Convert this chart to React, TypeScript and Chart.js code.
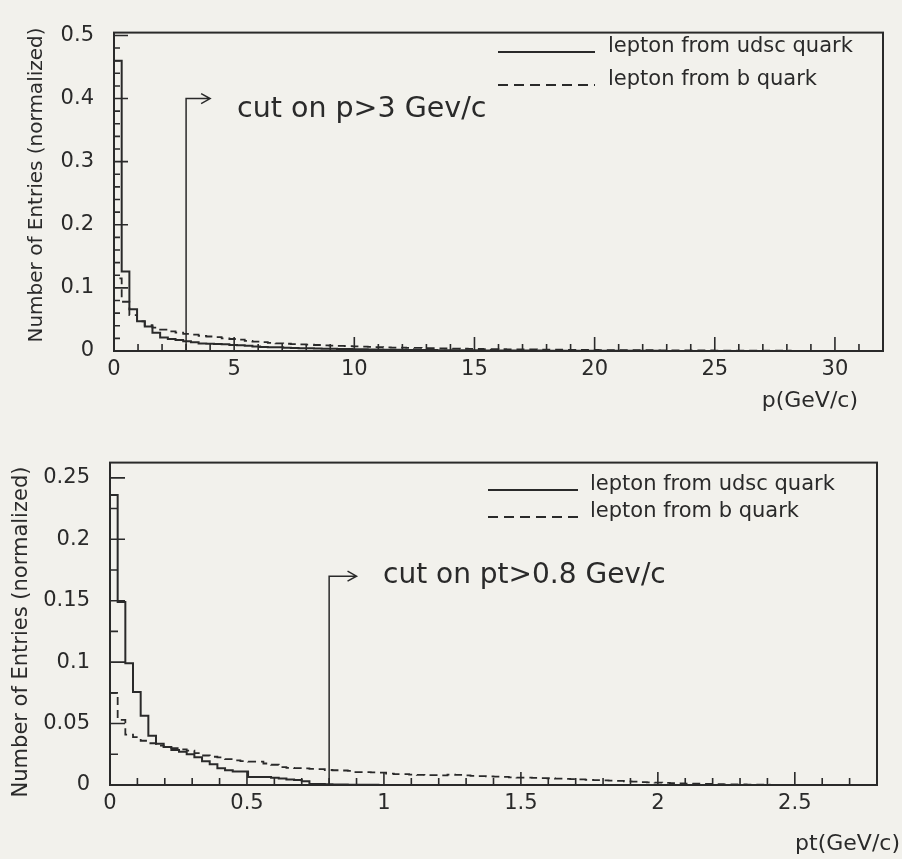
import React, { useEffect, useRef } from "react";
import { Chart, registerables } from "chart.js";

Chart.register(...registerables);

const INK = "#2a2a2a";
const PAPER = "#f2f1ec";
const FONT = "'DejaVu Sans', sans-serif";

// Lepton momentum p (GeV/c): 100 bins of 0.32 GeV between 0 and 32
const pBinWidth = 0.32;
const pUdsc = [
  0.46, 0.126, 0.066, 0.047, 0.039, 0.029, 0.0215, 0.019, 0.0175, 0.0155,
  0.014, 0.012, 0.0115, 0.011, 0.0105, 0.0095, 0.009, 0.0085, 0.007, 0.0065,
  0.006, 0.006, 0.005, 0.0048, 0.0045, 0.0042, 0.004, 0.0037, 0.0035, 0.0033,
  0.003, 0.0028, 0.0026, 0.0025, 0.0023, 0.0021, 0.002, 0.0019, 0.0017, 0.0016,
  0.0015, 0.0014, 0.0013, 0.0012, 0.0012, 0.0011, 0.001, 0.001, 0.0009, 0.0009,
  0.0008, 0.0008, 0.0007, 0.0007, 0.0006, 0.0006, 0.0005, 0.0005, 0.0005, 0.0004,
  0.0004, 0.0004, 0.0003, 0.0003, 0.0003, 0.0003, 0.0002, 0.0002, 0.0002, 0.0002,
  0.0002, 0.0001, 0.0001, 0.0001, 0.0001, 0.0001, 0.0001, 0.0001, 0.0001, 0.0,
  0.0001, 0.0, 0.0, 0.0001, 0.0, 0.0, 0.0, 0.0, 0.0, 0.0,
  0.0, 0.0, 0.0, 0.0, 0.0, 0.0, 0.0, 0.0, 0.0, 0.0,
];
const pB = [
  0.115, 0.078, 0.057, 0.047, 0.041, 0.037, 0.034, 0.031, 0.029, 0.027,
  0.026, 0.024, 0.023, 0.022, 0.02, 0.019, 0.018, 0.016, 0.015, 0.014,
  0.013, 0.012, 0.0115, 0.011, 0.0105, 0.01, 0.0095, 0.009, 0.0085, 0.008,
  0.0078, 0.0072, 0.007, 0.0065, 0.006, 0.0058, 0.0055, 0.0052, 0.005, 0.0048,
  0.0046, 0.0044, 0.0042, 0.004, 0.0038, 0.0036, 0.0034, 0.0032, 0.003, 0.0029,
  0.0028, 0.0027, 0.0026, 0.0025, 0.0024, 0.0023, 0.0022, 0.0021, 0.002, 0.0019,
  0.0018, 0.0017, 0.0016, 0.0015, 0.0015, 0.0014, 0.0014, 0.0013, 0.0012, 0.0012,
  0.0011, 0.0011, 0.001, 0.001, 0.001, 0.0009, 0.0008, 0.0008, 0.0007, 0.0007,
  0.0006, 0.0006, 0.0005, 0.0005, 0.0005, 0.0004, 0.0004, 0.0004, 0.0003, 0.0003,
  0.0003, 0.0003, 0.0002, 0.0002, 0.0002, 0.0002, 0.0002, 0.0001, 0.0001, 0.0001,
];

// Lepton transverse momentum pt (GeV/c): 100 bins of 0.028 GeV between 0 and 2.8
const ptBinWidth = 0.028;
const ptUdsc = [
  0.236, 0.149, 0.099, 0.0756, 0.0564, 0.04, 0.0336, 0.031, 0.0285, 0.027,
  0.025, 0.0225, 0.0194, 0.0168, 0.0137, 0.012, 0.011, 0.011, 0.0065, 0.0065,
  0.0065, 0.006, 0.0052, 0.0044, 0.004, 0.003, 0.0008, 0.0008, 0.0006, 0.0005,
  0.0004, 0.0003, 0.0003, 0.0002, 0.0002, 0.0001, 0.0001, 0.0001, 0.0, 0.0001,
  0.0, 0.0, 0.0, 0.0, 0.0, 0.0, 0.0, 0.0, 0.0, 0.0,
  0.0, 0.0, 0.0, 0.0, 0.0, 0.0, 0.0, 0.0, 0.0, 0.0,
  0.0, 0.0, 0.0, 0.0, 0.0, 0.0, 0.0, 0.0, 0.0, 0.0,
  0.0, 0.0, 0.0, 0.0, 0.0, 0.0, 0.0, 0.0, 0.0, 0.0,
  0.0, 0.0, 0.0, 0.0, 0.0, 0.0, 0.0, 0.0, 0.0, 0.0,
  0.0, 0.0, 0.0, 0.0, 0.0, 0.0, 0.0, 0.0, 0.0, 0.0,
];
const ptB = [
  0.075, 0.053, 0.041, 0.039, 0.036, 0.034, 0.032, 0.031, 0.03, 0.029,
  0.028, 0.026, 0.024, 0.023, 0.0225, 0.021, 0.02, 0.0195, 0.019, 0.019,
  0.0175, 0.0165, 0.0145, 0.014, 0.0138, 0.0135, 0.0132, 0.013, 0.0122, 0.012,
  0.0118, 0.0115, 0.0105, 0.0104, 0.0102, 0.01, 0.0092, 0.0088, 0.0088, 0.0085,
  0.0082, 0.008, 0.008, 0.0078, 0.0085, 0.0082, 0.0078, 0.0075, 0.0072, 0.007,
  0.0068, 0.0066, 0.0062, 0.006, 0.006, 0.0058, 0.0056, 0.0055, 0.0052, 0.005,
  0.0048, 0.0045, 0.0042, 0.004, 0.0038, 0.0036, 0.0034, 0.003, 0.0028, 0.0024,
  0.0022, 0.002, 0.0018, 0.0016, 0.0014, 0.0012, 0.001, 0.0009, 0.0008, 0.0006,
  0.0005, 0.0004, 0.0004, 0.0003, 0.0003, 0.0002, 0.0, 0.0001, 0.0, 0.0,
  0.0, 0.0, 0.0, 0.0, 0.0, 0.0, 0.0, 0.0, 0.0, 0.0,
];

const pTicksX = [0, 5, 10, 15, 20, 25, 30];
const pTickLabelsX = ["0", "5", "10", "15", "20", "25", "30"];
const pTicksY = [0, 0.1, 0.2, 0.3, 0.4, 0.5];
const pTickLabelsY = ["0", "0.1", "0.2", "0.3", "0.4", "0.5"];
const ptTicksX = [0, 0.5, 1, 1.5, 2, 2.5];
const ptTickLabelsX = ["0", "0.5", "1", "1.5", "2", "2.5"];
const ptTicksY = [0, 0.05, 0.1, 0.15, 0.2, 0.25];
const ptTickLabelsY = ["0", "0.05", "0.1", "0.15", "0.2", "0.25"];

const seriesNames = ["lepton from udsc quark", "lepton from b quark"];
const yAxisTitle = "Number of Entries (normalized)";

// cut marker: vertical line at the cut value, arrow pointing to the accepted side
const pCut = { at: 3, arrowTo: 4, level: 0.4, label: "cut on p>3 Gev/c" };
const ptCut = { at: 0.8, arrowTo: 0.9, level: 0.17, label: "cut on pt>0.8 Gev/c" };

type Panel = {
  top: number;
  width: number;
  height: number;
  area: { left: number; top: number; right: number; bottom: number };
  xMax: number;
  yMax: number;
  binWidth: number;
  udsc: number[];
  b: number[];
  xTicks: number[];
  xLabels: string[];
  xMinor: number;
  yTicks: number[];
  yLabels: string[];
  yMinor: number;
  ticks: { xMajor: number; xMinor: number; yMajor: number; yMinor: number };
  cut: { at: number; arrowTo: number; level: number; label: string };
  cutText: { x: number; y: number; size: number };
  legend: { x1: number; x2: number; textX: number; y1: number; y2: number; size: number };
  xTitle: string;
  xTitleAt: { x: number; y: number; size: number };
  yTitleAt: { x: number; y: number; size: number };
  tickFont: number;
  yLabelPad: number;
  xLabelPad: number;
};

const X_AXIS_H = 60;

const panels: Panel[] = [
  {
    top: 0,
    width: 902,
    height: 430,
    area: { left: 114, top: 15, right: 883, bottom: 351 },
    xMax: 32,
    yMax: 0.5045,
    binWidth: pBinWidth,
    udsc: pUdsc,
    b: pB,
    xTicks: pTicksX,
    xLabels: pTickLabelsX,
    xMinor: 1,
    yTicks: pTicksY,
    yLabels: pTickLabelsY,
    yMinor: 0.02,
    ticks: { xMajor: 14, xMinor: 7, yMajor: 14, yMinor: 6 },
    cut: pCut,
    cutText: { x: 237, y: 117, size: 28.5 },
    legend: { x1: 498, x2: 595, textX: 608, y1: 52, y2: 85, size: 21 },
    xTitle: "p(GeV/c)",
    xTitleAt: { x: 858, y: 407, size: 22 },
    yTitleAt: { x: 37, y: 185, size: 20 },
    tickFont: 21,
    yLabelPad: 20,
    xLabelPad: 6,
  },
  {
    top: 430,
    width: 902,
    height: 429,
    area: { left: 110, top: 17, right: 877, bottom: 355 },
    xMax: 2.8,
    yMax: 0.2624,
    binWidth: ptBinWidth,
    udsc: ptUdsc,
    b: ptB,
    xTicks: ptTicksX,
    xLabels: ptTickLabelsX,
    xMinor: 0.1,
    yTicks: ptTicksY,
    yLabels: ptTickLabelsY,
    yMinor: 0.025,
    ticks: { xMajor: 13, xMinor: 7, yMajor: 15, yMinor: 8 },
    cut: ptCut,
    cutText: { x: 383, y: 153, size: 28 },
    legend: { x1: 488, x2: 578, textX: 590, y1: 60, y2: 87, size: 21 },
    xTitle: "pt(GeV/c)",
    xTitleAt: { x: 900, y: 420, size: 22 },
    yTitleAt: { x: 22, y: 202, size: 21 },
    tickFont: 21,
    yLabelPad: 20,
    xLabelPad: 6,
  },
];

function histPoints(values: number[], width: number) {
  const pts = [{ x: 0, y: 0 }];
  values.forEach((v, i) => pts.push({ x: i * width, y: v }));
  pts.push({ x: values.length * width, y: values[values.length - 1] });
  return pts;
}

function isMajor(v: number, majors: number[], tol: number) {
  return majors.some((m) => Math.abs(m - v) < tol);
}

function decorPlugin(p: Panel) {
  return {
    id: "decor",
    afterDatasetsDraw(chart: any) {
      const { ctx, chartArea: a } = chart;
      const xs = chart.scales.x;
      const ys = chart.scales.y;
      ctx.save();
      ctx.strokeStyle = INK;
      ctx.fillStyle = INK;
      ctx.setLineDash([]);

      // frame
      ctx.lineWidth = 2;
      ctx.strokeRect(a.left, a.top, a.right - a.left, a.bottom - a.top);

      // inward tick marks on the bottom and left axes
      ctx.lineWidth = 1.6;
      ctx.beginPath();
      const nx = Math.floor(p.xMax / p.xMinor + 1e-6);
      for (let i = 1; i <= nx; i++) {
        const v = i * p.xMinor;
        const px = xs.getPixelForValue(v);
        if (px > a.right - 1) continue;
        const len = isMajor(v, p.xTicks, p.xMinor / 10) ? p.ticks.xMajor : p.ticks.xMinor;
        ctx.moveTo(px, a.bottom);
        ctx.lineTo(px, a.bottom - len);
      }
      const ny = Math.floor(p.yMax / p.yMinor + 1e-6);
      for (let i = 1; i <= ny; i++) {
        const v = i * p.yMinor;
        const py = ys.getPixelForValue(v);
        if (py < a.top + 1) continue;
        const len = isMajor(v, p.yTicks, p.yMinor / 10) ? p.ticks.yMajor : p.ticks.yMinor;
        ctx.moveTo(a.left, py);
        ctx.lineTo(a.left + len, py);
      }
      ctx.stroke();

      // cut line with arrow
      const cx = xs.getPixelForValue(p.cut.at);
      const cy = ys.getPixelForValue(p.cut.level);
      const ax = xs.getPixelForValue(p.cut.arrowTo);
      ctx.lineWidth = 1.5;
      ctx.beginPath();
      ctx.moveTo(cx, a.bottom);
      ctx.lineTo(cx, cy);
      ctx.lineTo(ax, cy);
      ctx.moveTo(ax - 9, cy - 5);
      ctx.lineTo(ax, cy);
      ctx.lineTo(ax - 9, cy + 5);
      ctx.stroke();

      ctx.textBaseline = "alphabetic";
      ctx.textAlign = "left";
      ctx.font = `${p.cutText.size}px ${FONT}`;
      ctx.fillText(p.cut.label, p.cutText.x, p.cutText.y);

      // legend
      ctx.lineWidth = 2;
      ctx.beginPath();
      ctx.moveTo(p.legend.x1, p.legend.y1);
      ctx.lineTo(p.legend.x2, p.legend.y1);
      ctx.stroke();
      ctx.setLineDash([10, 6]);
      ctx.beginPath();
      ctx.moveTo(p.legend.x1, p.legend.y2);
      ctx.lineTo(p.legend.x2, p.legend.y2);
      ctx.stroke();
      ctx.setLineDash([]);
      ctx.font = `${p.legend.size}px ${FONT}`;
      ctx.fillText(seriesNames[0], p.legend.textX, p.legend.y1);
      ctx.fillText(seriesNames[1], p.legend.textX, p.legend.y2);

      // axis titles
      ctx.font = `${p.xTitleAt.size}px ${FONT}`;
      ctx.textAlign = "right";
      ctx.fillText(p.xTitle, p.xTitleAt.x, p.xTitleAt.y);

      ctx.translate(p.yTitleAt.x, p.yTitleAt.y);
      ctx.rotate(-Math.PI / 2);
      ctx.textAlign = "center";
      ctx.textBaseline = "middle";
      ctx.font = `${p.yTitleAt.size}px ${FONT}`;
      ctx.fillText(yAxisTitle, 0, 0);
      ctx.restore();
    },
  };
}

function HistPanel({ p }: { p: Panel }) {
  const ref = useRef<HTMLCanvasElement | null>(null);
  useEffect(() => {
    if (!ref.current) return;
    const tickFont = { family: FONT, size: p.tickFont };
    const chart = new Chart(ref.current, {
      type: "line",
      data: {
        datasets: [
          {
            label: seriesNames[0],
            data: histPoints(p.udsc, p.binWidth),
            stepped: true,
            borderColor: INK,
            borderWidth: 2,
            pointRadius: 0,
            fill: false,
          },
          {
            label: seriesNames[1],
            data: histPoints(p.b, p.binWidth),
            stepped: true,
            borderColor: INK,
            borderWidth: 1.8,
            borderDash: [8, 5],
            pointRadius: 0,
            fill: false,
          },
        ],
      },
      options: {
        animation: false,
        responsive: false,
        devicePixelRatio: 1,
        parsing: false,
        layout: {
          padding: {
            left: 0,
            right: p.width - p.area.right,
            top: p.area.top,
            bottom: p.height - p.area.bottom - X_AXIS_H,
          },
        },
        plugins: { legend: { display: false }, tooltip: { enabled: false } },
        scales: {
          x: {
            type: "linear",
            min: 0,
            max: p.xMax,
            afterFit: (s: any) => {
              s.height = X_AXIS_H;
            },
            afterBuildTicks: (s: any) => {
              s.ticks = p.xTicks.map((v) => ({ value: v }));
            },
            ticks: {
              callback: (_v: any, i: number) => p.xLabels[i],
              font: tickFont,
              color: INK,
              padding: p.xLabelPad,
              maxRotation: 0,
              autoSkip: false,
            },
            grid: { display: false, drawTicks: false },
            border: { display: false },
          },
          y: {
            type: "linear",
            min: 0,
            max: p.yMax,
            afterFit: (s: any) => {
              s.width = p.area.left;
            },
            afterBuildTicks: (s: any) => {
              s.ticks = p.yTicks.map((v) => ({ value: v }));
            },
            ticks: {
              callback: (_v: any, i: number) => p.yLabels[i],
              font: tickFont,
              color: INK,
              padding: p.yLabelPad,
              autoSkip: false,
            },
            grid: { display: false, drawTicks: false },
            border: { display: false },
          },
        },
      },
      plugins: [decorPlugin(p)],
    } as any);
    return () => chart.destroy();
  }, [p]);
  return (
    <canvas
      ref={ref}
      width={p.width}
      height={p.height}
      style={{ position: "absolute", left: 0, top: p.top, width: p.width, height: p.height }}
    />
  );
}

export default function App() {
  return (
    <div
      style={{
        position: "fixed",
        left: 0,
        top: 0,
        width: 902,
        height: 859,
        background: PAPER,
        overflow: "hidden",
      }}
    >
      {panels.map((p, i) => (
        <HistPanel key={i} p={p} />
      ))}
    </div>
  );
}
